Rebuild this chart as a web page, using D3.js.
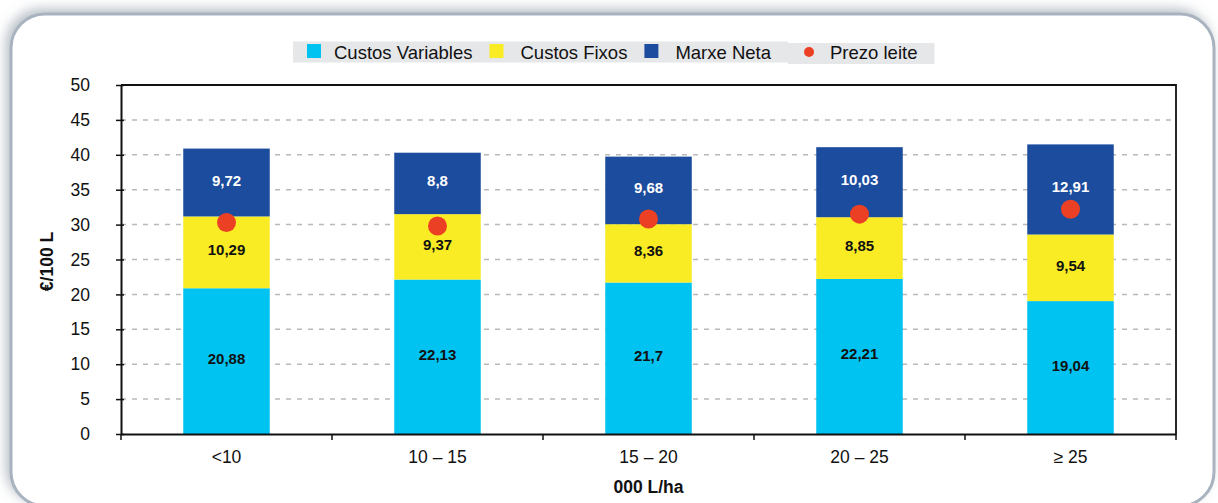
<!DOCTYPE html>
<html>
<head>
<meta charset="utf-8">
<script src="https://cdn.jsdelivr.net/npm/d3@7"></script>
<style>
  body { margin: 0; background: #fff; }
  svg text { font-family: "Liberation Sans", Arial, Helvetica, sans-serif; }
</style>
</head>
<body>
<div class="chart"></div>
<script>
// Data
const categories = ['<10', '10 – 15', '15 – 20', '20 – 25', '≥ 25'];
const custosVariables = [20.88, 22.13, 21.7, 22.21, 19.04];
const custosFixos = [10.29, 9.37, 8.36, 8.85, 9.54];
const marxeNeta = [9.72, 8.8, 9.68, 10.03, 12.91];
const prezoLeite = [30.3, 29.8, 30.8, 31.5, 32.2];
const yTicks = [0, 5, 10, 15, 20, 25, 30, 35, 40, 45, 50];

const seriesNames = ['Custos Variables', 'Custos Fixos', 'Marxe Neta'];
const seriesColors = ['#00c3f1', '#faec24', '#1b4c9d'];
const dotColor = '#ec4024';

const fmt = v => String(v).replace('.', ',');

const W = 1218, H = 503;
const plot = {left: 121, right: 1176, top: 85, bottom: 434};

const svg = d3.select('.chart').append('svg')
  .attr('width', W).attr('height', H);

// frame with soft shadow
const defs = svg.append('defs');
const f = defs.append('filter').attr('id', 'shadow')
  .attr('x', '-5%').attr('y', '-10%').attr('width', '110%').attr('height', '120%');
f.append('feDropShadow').attr('dx', -4).attr('dy', -4).attr('stdDeviation', 6)
  .attr('flood-color', '#8a96a3').attr('flood-opacity', 0.6);

svg.append('rect')
  .attr('x', 11).attr('y', 14).attr('width', 1203).attr('height', 492)
  .attr('rx', 34).attr('ry', 34)
  .attr('fill', '#fff').attr('stroke', '#a8b3bf').attr('stroke-width', 3)
  .attr('filter', 'url(#shadow)');

// scales
const x = d3.scaleBand().domain(categories).range([plot.left, plot.right]).padding(0);
const y = d3.scaleLinear().domain([0, 50]).range([plot.bottom, plot.top]);
const barW = x.bandwidth() * 0.41;

// gridlines
svg.append('g').selectAll('line').data(yTicks.filter(d => d > 0 && d < 50)).join('line')
  .attr('x1', plot.left).attr('x2', plot.right)
  .attr('y1', d => y(d)).attr('y2', d => y(d))
  .attr('stroke', '#b9b9b9').attr('stroke-width', 1.5)
  .attr('stroke-dasharray', '5,6');

// stacked bars
const stackData = categories.map((c, i) => ({
  cat: c, 'Custos Variables': custosVariables[i], 'Custos Fixos': custosFixos[i], 'Marxe Neta': marxeNeta[i]
}));
const stacked = d3.stack().keys(seriesNames)(stackData);

const layers = svg.append('g').selectAll('g').data(stacked).join('g')
  .attr('fill', (d, i) => seriesColors[i]);
layers.selectAll('rect').data(d => d).join('rect')
  .attr('x', d => x(d.data.cat) + (x.bandwidth() - barW) / 2)
  .attr('width', barW)
  .attr('y', d => y(d[1]))
  .attr('height', d => y(d[0]) - y(d[1]));

// value labels
stacked.forEach((layer, li) => {
  svg.append('g').selectAll('text').data(layer).join('text')
    .attr('x', d => x(d.data.cat) + x.bandwidth() / 2)
    .attr('y', d => y((d[0] + d[1]) / 2))
    .attr('dy', '0.2em')
    .attr('text-anchor', 'middle')
    .style('font-size', '15px').style('font-weight', 'bold')
    .attr('fill', li === 2 ? '#fff' : '#111')
    .text(d => fmt(d.data[layer.key]));
});

// milk price dots
svg.append('g').selectAll('circle').data(prezoLeite).join('circle')
  .attr('cx', (d, i) => x(categories[i]) + x.bandwidth() / 2)
  .attr('cy', d => y(d))
  .attr('r', 9.5)
  .attr('fill', dotColor);

// plot box top & right
svg.append('path')
  .attr('d', `M${plot.left},${plot.top}H${plot.right}V${plot.bottom}`)
  .attr('fill', 'none').attr('stroke', '#111').attr('stroke-width', 1.8);

// y axis
const yAxis = d3.axisLeft(y).tickValues(yTicks).tickSizeInner(5).tickSizeOuter(0).tickPadding(26);
const yG = svg.append('g').attr('transform', `translate(${plot.left},0)`).call(yAxis);
yG.select('.domain').attr('stroke', '#111').attr('stroke-width', 2);
yG.selectAll('.tick line').attr('x1', -5).attr('x2', 3).attr('stroke', '#111').attr('stroke-width', 1.5);
yG.selectAll('.tick text').style('font-size', '17.5px').attr('fill', '#111');

// x axis
const xAxis = d3.axisBottom(x).tickSize(0).tickPadding(17);
const xG = svg.append('g').attr('transform', `translate(0,${plot.bottom})`).call(xAxis);
xG.select('.domain').attr('stroke', '#111').attr('stroke-width', 2);
xG.selectAll('.tick text').style('font-size', '17.5px').attr('fill', '#111');
const bounds = categories.map(c => x(c)).concat([plot.right]);
xG.selectAll('.bound').data(bounds).join('line').attr('class', 'bound')
  .attr('x1', d => d).attr('x2', d => d).attr('y1', 0).attr('y2', 6)
  .attr('stroke', '#111').attr('stroke-width', 1.5);

// axis titles
svg.append('text')
  .attr('transform', `translate(53,${(plot.top + plot.bottom) / 2 + 2}) rotate(-90)`)
  .attr('text-anchor', 'middle')
  .style('font-size', '17.5px').style('font-weight', 'bold').attr('fill', '#111')
  .text('€/100 L');
svg.append('text')
  .attr('x', (plot.left + plot.right) / 2).attr('y', 493)
  .attr('text-anchor', 'middle')
  .style('font-size', '17.5px').style('font-weight', 'bold').attr('fill', '#111')
  .text('000 L/ha');

// legend
const legend = svg.append('g');
const bg1 = legend.append('rect').attr('fill', '#e6e7e9');
const bg2 = legend.append('rect').attr('fill', '#e6e7e9');
let lx = 307;
const items = seriesNames.map((n, i) => ({name: n, color: seriesColors[i], type: 'rect'}))
  .concat([{name: 'Prezo leite', color: dotColor, type: 'dot'}]);
let splitX = 0;
items.forEach((it, i) => {
  if (it.type === 'rect') {
    legend.append('rect').attr('x', lx).attr('y', 44).attr('width', 14).attr('height', 14).attr('fill', it.color);
    lx += i === 0 ? 27 : 31;
  } else {
    splitX = lx;
    lx += 21;
    legend.append('circle').attr('cx', lx).attr('cy', 52).attr('r', 5).attr('fill', it.color);
    lx += 21;
  }
  const t = legend.append('text').attr('x', lx).attr('y', 58.5)
    .style('font-size', '18.5px').attr('fill', '#111').text(it.name);
  lx += t.node().getComputedTextLength() + 17;
});
bg1.attr('x', 293).attr('y', 41.5).attr('width', splitX - 293).attr('height', 21);
bg2.attr('x', splitX).attr('y', 43).attr('width', lx - splitX).attr('height', 21);
</script>
</body>
</html>
